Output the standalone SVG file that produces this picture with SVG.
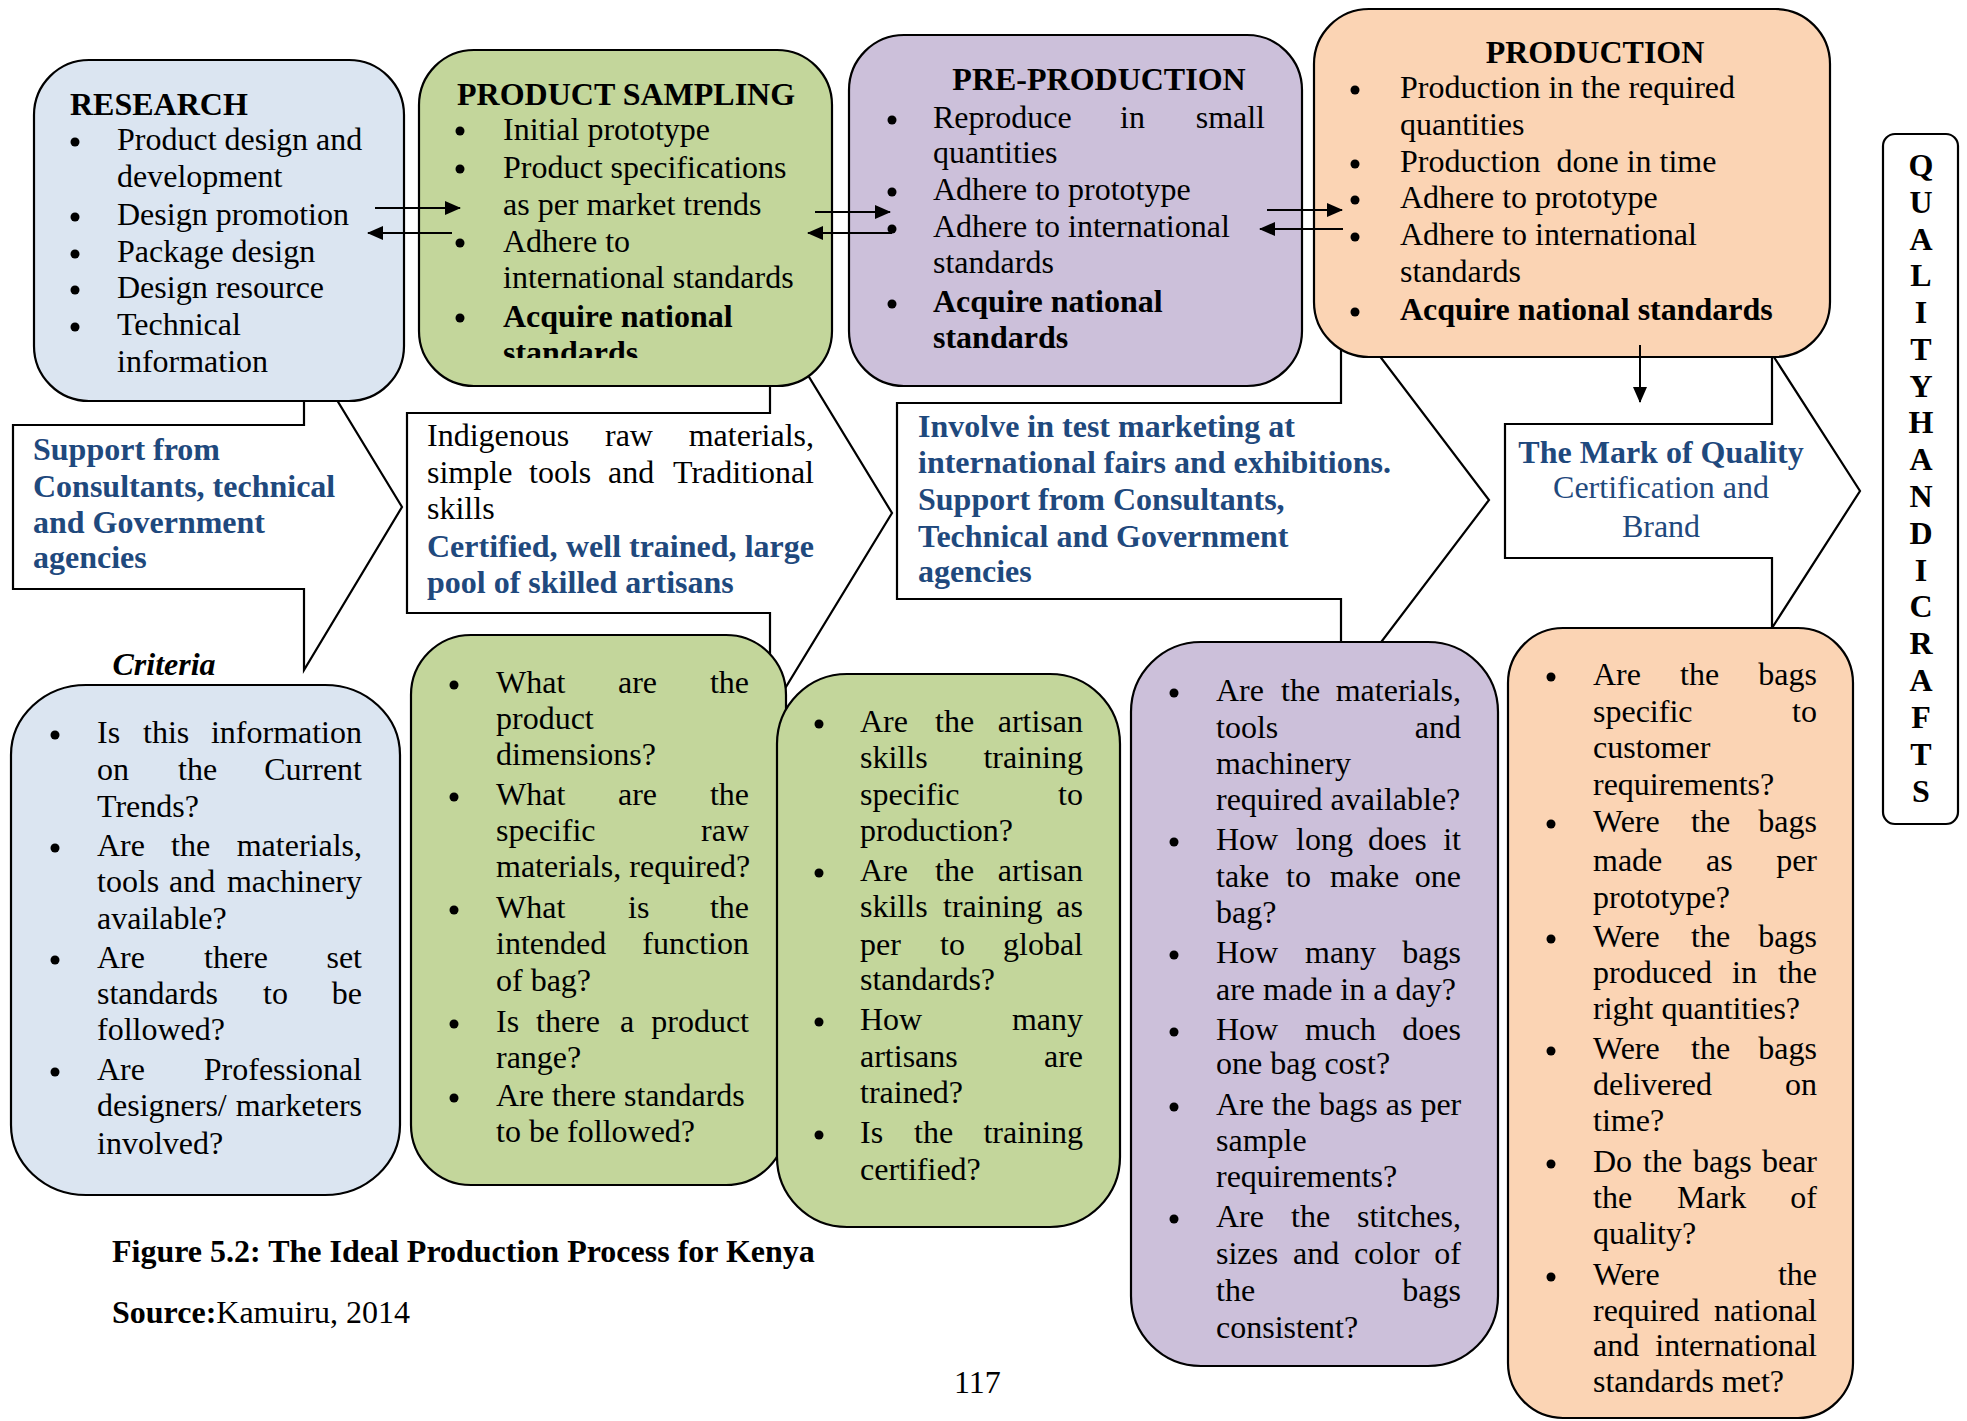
<svg xmlns="http://www.w3.org/2000/svg" width="1967" height="1421" viewBox="0 0 1967 1421">
<style>
.t{font-family:"Liberation Serif","Times New Roman",serif;font-size:32px;fill:#000}
.b{font-weight:bold}
.bi{font-weight:bold;font-style:italic}
.blue{fill:#1f497d}
.e{text-anchor:end}
.m{text-anchor:middle}
.dot{fill:#000}
.box{stroke:#000;stroke-width:2.2}
.call{fill:#fff;stroke:#000;stroke-width:2.2}
.con{stroke:#000;stroke-width:2;fill:none;marker-end:url(#ah)}
</style>
<defs>
<marker id="ah" markerWidth="16" markerHeight="14" refX="15" refY="7" orient="auto" markerUnits="userSpaceOnUse"><path d="M0,0 L16,7 L0,14 z" fill="#000"/></marker>
<clipPath id="psclip"><rect x="410" y="40" width="430" height="318"/></clipPath>
</defs>
<rect width="1967" height="1421" fill="#fff"/>

<!-- callout arrows -->
<g id="callout-support">
<polygon class="call" points="13,425 304,425 304,346 402,507 304,670 304,589 13,589"/>
<text class="t b blue" x="33" y="460">Support from</text>
<text class="t b blue" x="33" y="497">Consultants, technical</text>
<text class="t b blue" x="33" y="533">and Government</text>
<text class="t b blue" x="33" y="568">agencies</text>
</g>
<g id="callout-materials">
<polygon class="call" points="407,413 770,413 770,313 892,513 770,713 770,613 407,613"/>
<text class="t" y="446"><tspan x="427">Indigenous</tspan><tspan x="605">raw</tspan><tspan x="814" class="e">materials,</tspan></text>
<text class="t" y="483"><tspan x="427">simple</tspan><tspan x="529">tools</tspan><tspan x="608">and</tspan><tspan x="814" class="e">Traditional</tspan></text>
<text class="t" x="427" y="519">skills</text>
<text class="t b blue" y="557"><tspan x="427">Certified,</tspan><tspan x="566">well</tspan><tspan x="629">trained,</tspan><tspan x="814" class="e">large</tspan></text>
<text class="t b blue" x="427" y="593">pool of skilled artisans</text>
</g>
<g id="callout-marketing">
<polygon class="call" points="897,403 1341,403 1341,305 1489,500 1341,695 1341,599 897,599"/>
<text class="t b blue" x="918" y="437">Involve in test marketing at</text>
<text class="t b blue" x="918" y="473">international fairs and exhibitions.</text>
<text class="t b blue" x="918" y="510">Support from Consultants,</text>
<text class="t b blue" x="918" y="547">Technical and Government</text>
<text class="t b blue" x="918" y="582">agencies</text>
</g>
<g id="callout-mark">
<polygon class="call" points="1505,424 1772,424 1772,354 1860,491 1772,628 1772,558 1505,558"/>
<text class="t b blue m" x="1661" y="463">The Mark of Quality</text>
<text class="t blue m" x="1661" y="498">Certification and</text>
<text class="t blue m" x="1661" y="537">Brand</text>
</g>

<!-- top stage boxes -->
<g id="research">
<rect class="box" x="34" y="60" width="370" height="341" rx="55" fill="#dbe5f1"/>
<text class="t b" x="70" y="115">RESEARCH</text>
<circle class="dot" cx="75" cy="142" r="4.5"/>
<circle class="dot" cx="75" cy="217" r="4.5"/>
<circle class="dot" cx="75" cy="254" r="4.5"/>
<circle class="dot" cx="75" cy="290" r="4.5"/>
<circle class="dot" cx="75" cy="327" r="4.5"/>
<text class="t" x="117" y="150">Product design and</text>
<text class="t" x="117" y="187">development</text>
<text class="t" x="117" y="225">Design promotion</text>
<text class="t" x="117" y="262">Package design</text>
<text class="t" x="117" y="298">Design resource</text>
<text class="t" x="117" y="335">Technical</text>
<text class="t" x="117" y="372">information</text>
</g>
<g id="product-sampling">
<rect class="box" x="419" y="50" width="413" height="336" rx="55" fill="#c3d69b"/>
<text class="t b" x="457" y="105">PRODUCT SAMPLING</text>
<circle class="dot" cx="460" cy="131" r="4.5"/>
<circle class="dot" cx="460" cy="169" r="4.5"/>
<circle class="dot" cx="460" cy="243" r="4.5"/>
<circle class="dot" cx="460" cy="318" r="4.5"/>
<text class="t" x="503" y="140">Initial prototype</text>
<text class="t" x="503" y="178">Product specifications</text>
<text class="t" x="503" y="215">as per market trends</text>
<text class="t" x="503" y="252">Adhere to</text>
<text class="t" x="503" y="288">international standards</text>
<text class="t b" x="503" y="327">Acquire national</text>
<text class="t b" x="503" y="363" clip-path="url(#psclip)">standards</text>
</g>
<g id="pre-production">
<rect class="box" x="849" y="35" width="453" height="351" rx="55" fill="#ccc0da"/>
<text class="t b m" x="1099" y="90">PRE-PRODUCTION</text>
<circle class="dot" cx="892" cy="120" r="4.5"/>
<circle class="dot" cx="892" cy="192" r="4.5"/>
<circle class="dot" cx="892" cy="229" r="4.5"/>
<circle class="dot" cx="892" cy="304" r="4.5"/>
<text class="t" y="128"><tspan x="933">Reproduce</tspan><tspan x="1120">in</tspan><tspan x="1265" class="e">small</tspan></text>
<text class="t" x="933" y="163">quantities</text>
<text class="t" x="933" y="200">Adhere to prototype</text>
<text class="t" x="933" y="237">Adhere to international</text>
<text class="t" x="933" y="273">standards</text>
<text class="t b" x="933" y="312">Acquire national</text>
<text class="t b" x="933" y="348">standards</text>
</g>
<g id="production">
<rect class="box" x="1314" y="9" width="516" height="348" rx="55" fill="#fbd4b4"/>
<text class="t b m" x="1595" y="63">PRODUCTION</text>
<circle class="dot" cx="1355" cy="90" r="4.5"/>
<circle class="dot" cx="1355" cy="164" r="4.5"/>
<circle class="dot" cx="1355" cy="200" r="4.5"/>
<circle class="dot" cx="1355" cy="237" r="4.5"/>
<circle class="dot" cx="1355" cy="312" r="4.5"/>
<text class="t" x="1400" y="98">Production in the required</text>
<text class="t" x="1400" y="135">quantities</text>
<text class="t" x="1400" y="172" xml:space="preserve">Production  done in time</text>
<text class="t" x="1400" y="208">Adhere to prototype</text>
<text class="t" x="1400" y="245">Adhere to international</text>
<text class="t" x="1400" y="282">standards</text>
<text class="t b" x="1400" y="320">Acquire national standards</text>
</g>

<!-- bottom criteria boxes -->
<g id="criteria-research">
<text class="t bi m" x="164" y="675">Criteria</text>
<rect class="box" x="11" y="685" width="389" height="510" rx="75" ry="70" fill="#dbe5f1"/>
<circle class="dot" cx="55" cy="735" r="4.5"/>
<circle class="dot" cx="55" cy="848" r="4.5"/>
<circle class="dot" cx="55" cy="960" r="4.5"/>
<circle class="dot" cx="55" cy="1072" r="4.5"/>
<text class="t" y="743"><tspan x="97">Is</tspan><tspan x="143">this</tspan><tspan x="362" class="e">information</tspan></text>
<text class="t" y="780"><tspan x="97">on</tspan><tspan x="178">the</tspan><tspan x="362" class="e">Current</tspan></text>
<text class="t" x="97" y="817">Trends?</text>
<text class="t" y="856"><tspan x="97">Are</tspan><tspan x="171">the</tspan><tspan x="362" class="e">materials,</tspan></text>
<text class="t" y="892"><tspan x="97">tools</tspan><tspan x="169">and</tspan><tspan x="362" class="e">machinery</tspan></text>
<text class="t" x="97" y="929">available?</text>
<text class="t" y="968"><tspan x="97">Are</tspan><tspan x="204">there</tspan><tspan x="362" class="e">set</tspan></text>
<text class="t" y="1004"><tspan x="97">standards</tspan><tspan x="263">to</tspan><tspan x="362" class="e">be</tspan></text>
<text class="t" x="97" y="1040">followed?</text>
<text class="t" y="1080"><tspan x="97">Are</tspan><tspan x="362" class="e">Professional</tspan></text>
<text class="t" y="1116"><tspan x="97">designers/</tspan><tspan x="362" class="e">marketers</tspan></text>
<text class="t" x="97" y="1154">involved?</text>
</g>
<g id="criteria-sampling">
<rect class="box" x="411" y="635" width="375" height="550" rx="60" fill="#c3d69b"/>
<circle class="dot" cx="454" cy="685" r="4.5"/>
<circle class="dot" cx="454" cy="797" r="4.5"/>
<circle class="dot" cx="454" cy="910" r="4.5"/>
<circle class="dot" cx="454" cy="1024" r="4.5"/>
<circle class="dot" cx="454" cy="1098" r="4.5"/>
<text class="t" y="693"><tspan x="496">What</tspan><tspan x="618">are</tspan><tspan x="749" class="e">the</tspan></text>
<text class="t" x="496" y="729">product</text>
<text class="t" x="496" y="765">dimensions?</text>
<text class="t" y="805"><tspan x="496">What</tspan><tspan x="618">are</tspan><tspan x="749" class="e">the</tspan></text>
<text class="t" y="841"><tspan x="496">specific</tspan><tspan x="749" class="e">raw</tspan></text>
<text class="t" x="496" y="877">materials, required?</text>
<text class="t" y="918"><tspan x="496">What</tspan><tspan x="628">is</tspan><tspan x="749" class="e">the</tspan></text>
<text class="t" y="954"><tspan x="496">intended</tspan><tspan x="749" class="e">function</tspan></text>
<text class="t" x="496" y="991">of bag?</text>
<text class="t" y="1032"><tspan x="496">Is</tspan><tspan x="536">there</tspan><tspan x="620">a</tspan><tspan x="749" class="e">product</tspan></text>
<text class="t" x="496" y="1068">range?</text>
<text class="t" x="496" y="1106">Are there standards</text>
<text class="t" x="496" y="1142">to be followed?</text>
</g>
<g id="criteria-artisans">
<rect class="box" x="777" y="674" width="343" height="553" rx="70" fill="#c3d69b"/>
<circle class="dot" cx="819" cy="724" r="4.5"/>
<circle class="dot" cx="819" cy="873" r="4.5"/>
<circle class="dot" cx="819" cy="1022" r="4.5"/>
<circle class="dot" cx="819" cy="1135" r="4.5"/>
<text class="t" y="732"><tspan x="860">Are</tspan><tspan x="935">the</tspan><tspan x="1083" class="e">artisan</tspan></text>
<text class="t" y="768"><tspan x="860">skills</tspan><tspan x="1083" class="e">training</tspan></text>
<text class="t" y="805"><tspan x="860">specific</tspan><tspan x="1083" class="e">to</tspan></text>
<text class="t" x="860" y="841">production?</text>
<text class="t" y="881"><tspan x="860">Are</tspan><tspan x="935">the</tspan><tspan x="1083" class="e">artisan</tspan></text>
<text class="t" y="917"><tspan x="860">skills</tspan><tspan x="943">training</tspan><tspan x="1083" class="e">as</tspan></text>
<text class="t" y="955"><tspan x="860">per</tspan><tspan x="940">to</tspan><tspan x="1083" class="e">global</tspan></text>
<text class="t" x="860" y="990">standards?</text>
<text class="t" y="1030"><tspan x="860">How</tspan><tspan x="1083" class="e">many</tspan></text>
<text class="t" y="1067"><tspan x="860">artisans</tspan><tspan x="1083" class="e">are</tspan></text>
<text class="t" x="860" y="1103">trained?</text>
<text class="t" y="1143"><tspan x="860">Is</tspan><tspan x="914">the</tspan><tspan x="1083" class="e">training</tspan></text>
<text class="t" x="860" y="1180">certified?</text>
</g>
<g id="criteria-preproduction">
<rect class="box" x="1131" y="642" width="367" height="724" rx="70" fill="#ccc0da"/>
<circle class="dot" cx="1174" cy="693" r="4.5"/>
<circle class="dot" cx="1174" cy="842" r="4.5"/>
<circle class="dot" cx="1174" cy="955" r="4.5"/>
<circle class="dot" cx="1174" cy="1032" r="4.5"/>
<circle class="dot" cx="1174" cy="1107" r="4.5"/>
<circle class="dot" cx="1174" cy="1219" r="4.5"/>
<text class="t" y="701"><tspan x="1216">Are</tspan><tspan x="1281">the</tspan><tspan x="1461" class="e">materials,</tspan></text>
<text class="t" y="738"><tspan x="1216">tools</tspan><tspan x="1461" class="e">and</tspan></text>
<text class="t" x="1216" y="774">machinery</text>
<text class="t" x="1216" y="810">required available?</text>
<text class="t" y="850"><tspan x="1216">How</tspan><tspan x="1296">long</tspan><tspan x="1368">does</tspan><tspan x="1461" class="e">it</tspan></text>
<text class="t" y="887"><tspan x="1216">take</tspan><tspan x="1286">to</tspan><tspan x="1330">make</tspan><tspan x="1461" class="e">one</tspan></text>
<text class="t" x="1216" y="923">bag?</text>
<text class="t" y="963"><tspan x="1216">How</tspan><tspan x="1305">many</tspan><tspan x="1461" class="e">bags</tspan></text>
<text class="t" x="1216" y="1000">are made in a day?</text>
<text class="t" y="1040"><tspan x="1216">How</tspan><tspan x="1305">much</tspan><tspan x="1461" class="e">does</tspan></text>
<text class="t" x="1216" y="1074">one bag cost?</text>
<text class="t" x="1216" y="1115">Are the bags as per</text>
<text class="t" x="1216" y="1151">sample</text>
<text class="t" x="1216" y="1187">requirements?</text>
<text class="t" y="1227"><tspan x="1216">Are</tspan><tspan x="1291">the</tspan><tspan x="1461" class="e">stitches,</tspan></text>
<text class="t" y="1264"><tspan x="1216">sizes</tspan><tspan x="1293">and</tspan><tspan x="1354">color</tspan><tspan x="1461" class="e">of</tspan></text>
<text class="t" y="1301"><tspan x="1216">the</tspan><tspan x="1461" class="e">bags</tspan></text>
<text class="t" x="1216" y="1338">consistent?</text>
</g>
<g id="criteria-production">
<rect class="box" x="1508" y="628" width="345" height="790" rx="55" fill="#fbd4b4"/>
<circle class="dot" cx="1551" cy="677" r="4.5"/>
<circle class="dot" cx="1551" cy="824" r="4.5"/>
<circle class="dot" cx="1551" cy="939" r="4.5"/>
<circle class="dot" cx="1551" cy="1051" r="4.5"/>
<circle class="dot" cx="1551" cy="1164" r="4.5"/>
<circle class="dot" cx="1551" cy="1277" r="4.5"/>
<text class="t" y="685"><tspan x="1593">Are</tspan><tspan x="1680">the</tspan><tspan x="1817" class="e">bags</tspan></text>
<text class="t" y="722"><tspan x="1593">specific</tspan><tspan x="1817" class="e">to</tspan></text>
<text class="t" x="1593" y="758">customer</text>
<text class="t" x="1593" y="795">requirements?</text>
<text class="t" y="832"><tspan x="1593">Were</tspan><tspan x="1691">the</tspan><tspan x="1817" class="e">bags</tspan></text>
<text class="t" y="871"><tspan x="1593">made</tspan><tspan x="1706">as</tspan><tspan x="1817" class="e">per</tspan></text>
<text class="t" x="1593" y="908">prototype?</text>
<text class="t" y="947"><tspan x="1593">Were</tspan><tspan x="1691">the</tspan><tspan x="1817" class="e">bags</tspan></text>
<text class="t" y="983"><tspan x="1593">produced</tspan><tspan x="1732">in</tspan><tspan x="1817" class="e">the</tspan></text>
<text class="t" x="1593" y="1019">right quantities?</text>
<text class="t" y="1059"><tspan x="1593">Were</tspan><tspan x="1691">the</tspan><tspan x="1817" class="e">bags</tspan></text>
<text class="t" y="1095"><tspan x="1593">delivered</tspan><tspan x="1817" class="e">on</tspan></text>
<text class="t" x="1593" y="1131">time?</text>
<text class="t" y="1172"><tspan x="1593">Do</tspan><tspan x="1643">the</tspan><tspan x="1693">bags</tspan><tspan x="1817" class="e">bear</tspan></text>
<text class="t" y="1208"><tspan x="1593">the</tspan><tspan x="1677">Mark</tspan><tspan x="1817" class="e">of</tspan></text>
<text class="t" x="1593" y="1244">quality?</text>
<text class="t" y="1285"><tspan x="1593">Were</tspan><tspan x="1817" class="e">the</tspan></text>
<text class="t" y="1321"><tspan x="1593">required</tspan><tspan x="1817" class="e">national</tspan></text>
<text class="t" y="1356"><tspan x="1593">and</tspan><tspan x="1817" class="e">international</tspan></text>
<text class="t" x="1593" y="1392">standards met?</text>
</g>

<g id="quality-handicrafts">
<rect x="1883" y="134" width="75" height="690" rx="12" fill="#fff" stroke="#000" stroke-width="2.2"/>
<text class="t b m" x="1921" font-size="31"><tspan x="1921" y="176">Q</tspan><tspan x="1921" y="213">U</tspan><tspan x="1921" y="250">A</tspan><tspan x="1921" y="286">L</tspan><tspan x="1921" y="323">I</tspan><tspan x="1921" y="360">T</tspan><tspan x="1921" y="397">Y</tspan><tspan x="1921" y="433">H</tspan><tspan x="1921" y="470">A</tspan><tspan x="1921" y="507">N</tspan><tspan x="1921" y="544">D</tspan><tspan x="1921" y="581">I</tspan><tspan x="1921" y="617">C</tspan><tspan x="1921" y="654">R</tspan><tspan x="1921" y="691">A</tspan><tspan x="1921" y="728">F</tspan><tspan x="1921" y="765">T</tspan><tspan x="1921" y="802">S</tspan></text>
</g>

<g id="connectors">
<line class="con" x1="375" y1="208" x2="460" y2="208"/>
<line class="con" x1="452" y1="233" x2="368" y2="233"/>
<line class="con" x1="815" y1="212" x2="890" y2="212"/>
<line class="con" x1="892" y1="233" x2="808" y2="233"/>
<line class="con" x1="1267" y1="210" x2="1342" y2="210"/>
<line class="con" x1="1343" y1="229" x2="1260" y2="229"/>
<line class="con" x1="1640" y1="345" x2="1640" y2="402"/>
</g>

<g id="caption">
<text class="t b" x="112" y="1262">Figure 5.2: The Ideal Production Process for Kenya</text>
<text class="t" x="112" y="1323"><tspan class="b">Source:</tspan>Kamuiru, 2014</text>
<text class="t" x="954" y="1393">117</text>
</g>
</svg>
